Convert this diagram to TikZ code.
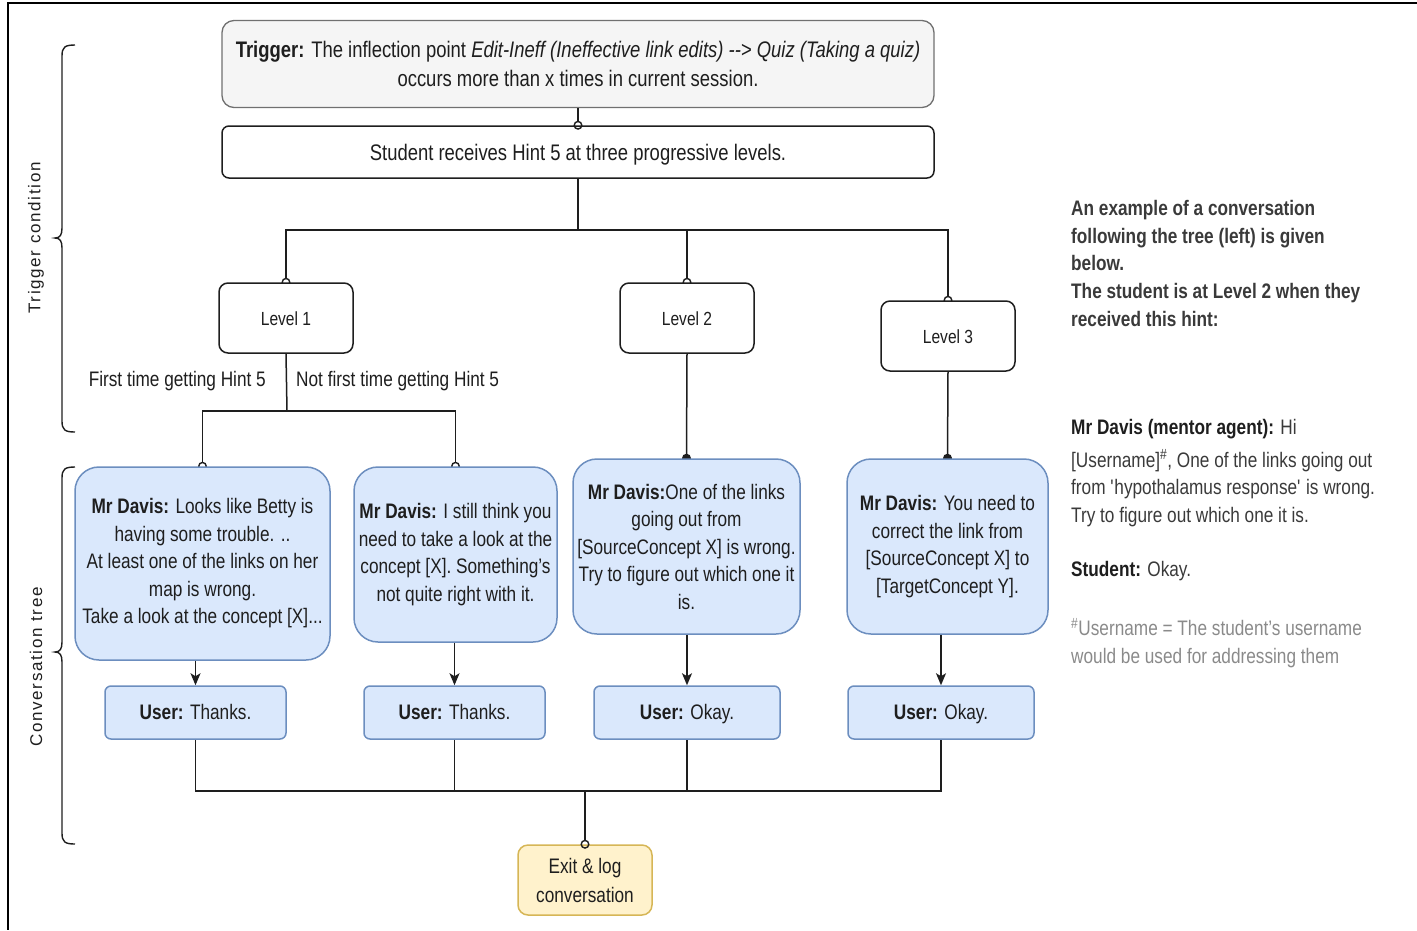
\documentclass[tikz,border=0pt]{standalone}
\usepackage{fontspec}
\setmainfont[FakeStretch=0.82]{Liberation Sans}
\newfontfamily\sidefont[LetterSpace=10]{Liberation Sans}
\usetikzlibrary{arrows.meta,backgrounds}

\definecolor{ink}{HTML}{1E1E1E}
\definecolor{trigfill}{HTML}{F5F5F5}
\definecolor{trigline}{HTML}{707070}
\definecolor{bluefill}{HTML}{DAE8FC}
\definecolor{blueline}{HTML}{6C8EBF}
\definecolor{yelfill}{HTML}{FFF2CC}
\definecolor{yelline}{HTML}{D6B656}
\definecolor{notegray}{HTML}{3A3A3A}
\definecolor{footgray}{HTML}{8A8A8A}

\newcommand{\txt}[2]{\fontsize{#1}{#2}\selectfont}

\tikzset{
  every node/.style={text=ink, inner sep=0pt, align=center},
  trigbox/.style={draw=trigline, fill=trigfill, line width=1.3pt, rounded corners=12pt,
    minimum width=712pt, minimum height=87pt, font=\txt{22.5}{29}},
  hintbox/.style={draw=ink, fill=white, line width=1.5pt, rounded corners=7pt,
    minimum width=712pt, minimum height=52pt, font=\txt{22.5}{27}, text height=20pt, text depth=2.5pt},
  levelbox/.style={draw=ink, fill=white, line width=1.5pt, rounded corners=9pt,
    minimum width=134pt, minimum height=70pt, font=\txt{19}{24}, text height=18pt, text depth=2.5pt},
  davisbox/.style={draw=blueline, fill=bluefill, line width=1.5pt, rounded corners=24pt,
    minimum height=175pt, font=\txt{21}{27.5}},
  userbox/.style={draw=blueline, fill=bluefill, line width=1.5pt, rounded corners=6pt,
    minimum height=53pt, font=\txt{21}{27}, text height=17pt, text depth=2.5pt},
  exitbox/.style={draw=yelline, fill=yelfill, line width=1.5pt, rounded corners=10pt,
    minimum width=134pt, minimum height=70pt, font=\txt{21}{29}},
  branchlabel/.style={font=\txt{21}{27}},
  sidelabel/.style={font=\sidefont\fontsize{17}{20}\selectfont, rotate=90},
  notetext/.style={align=left, anchor=north west, text=notegray, font=\txt{21}{27.7}},
  edge/.style={draw=ink, line width=1.5pt},
  opentip/.style={-{Circle[open,length=9pt,width=9pt,line width=1.4pt]}, shorten >=-4.5pt},
  dottip/.style={-{Circle[length=9pt,width=9pt]}, shorten >=-4.5pt},
  steptip/.style={-{Stealth[length=12pt,width=10pt,inset=3pt]}},
  bracket/.style={draw=ink, line width=1.4pt},
}

\begin{document}
\begin{tikzpicture}[x=1pt,y=-1pt]
\useasboundingbox (0,0) rectangle (1417,930);

% frame edges
\draw[line width=1.6pt] (1417,3) -- (8,3) -- (8,930);

% trigger and hint
\node[trigbox] (trig) at (578,64)
  {\textbf{Trigger:} The inflection point \textit{Edit-Ineff (Ineffective link edits) {-}{-}> Quiz (Taking a quiz)}\\
   occurs more than x times in current session.};
\node[hintbox] (hint) at (578,152) {Student receives Hint 5 at three progressive levels.};

% levels
\node[levelbox] (lv1) at (286,318) {Level 1};
\node[levelbox] (lv2) at (687,318) {Level 2};
\node[levelbox] (lv3) at (948,336) {Level 3};

\node[branchlabel, anchor=east] (first) at (266,381) {First time getting Hint 5};
\node[branchlabel, anchor=west] (notfirst) at (296,381) {Not first time getting Hint 5};

% mentor messages
\node[davisbox, minimum width=255pt, minimum height=193pt] (d1) at (202.5,563.5)
  {\textbf{Mr Davis:} Looks like Betty is\\ having some trouble. ..\\ At least one of the links on her\\ map is wrong.\\ Take a look at the concept [X]...};
\node[davisbox, minimum width=203pt] (d2) at (455.5,554.5)
  {\textbf{Mr Davis:} I still think you\\ need to take a look at the\\ concept [X]. Something's\\ not quite right with it.};
\node[davisbox, minimum width=227pt] (d3) at (686.5,546.5)
  {\textbf{Mr Davis:}One of the links\\ going out from\\ {[SourceConcept X]} is wrong.\\ Try to figure out which one it\\ is.};
\node[davisbox, minimum width=201pt] (d4) at (947.5,546.5)
  {\textbf{Mr Davis:} You need to\\ correct the link from\\ {[SourceConcept X]} to\\ {[TargetConcept Y]}.};

% user replies
\node[userbox, minimum width=181pt] (u1) at (195.5,712.5) {\textbf{User:} Thanks.};
\node[userbox, minimum width=181pt] (u2) at (454.5,712.5) {\textbf{User:} Thanks.};
\node[userbox, minimum width=186pt] (u3) at (687,712.5) {\textbf{User:} Okay.};
\node[userbox, minimum width=186pt] (u4) at (941,712.5) {\textbf{User:} Okay.};

\node[exitbox] (exit) at (585,880) {Exit \& log\\ conversation};

% junction points
\coordinate (hub) at (578,230);
\coordinate (split) at (287,411);
\coordinate (join) at (585,791);

% tree connectors, behind the boxes
\begin{scope}[on background layer]
  \draw[edge] (hint.south) -- (hub);
  \draw[edge, opentip] (hub) -| (lv1.north);
  \draw[edge, opentip] (hub) -| (lv2.north);
  \draw[edge, opentip] (hub) -| (lv3.north);
  \draw[edge] (lv1.south) -- (split);
  \draw[edge, opentip] (split) -| (d1.north);
  \draw[edge, opentip] (split) -| (d2.north);
  \draw[edge, dottip] (lv2.south) -- (d3.north);
  \draw[edge, dottip] (lv3.south) -- (d4.north);
  \draw[edge] (u1.south) |- (join);
  \draw[edge] (u2.south) |- (join);
  \draw[edge] (u3.south) |- (join);
  \draw[edge] (u4.south) |- (join);
\end{scope}

\draw[edge, opentip] (trig.south) -- (hint.north);
\draw[edge, steptip] (d1.south -| u1.north) -- (u1.north);
\draw[edge, steptip] (d2.south -| u2.north) -- (u2.north);
\draw[edge, steptip] (d3.south -| u3.north) -- (u3.north);
\draw[edge, steptip] (d4.south -| u4.north) -- (u4.north);
\draw[edge, opentip] (join) -- (exit.north);

% section brackets
\draw[bracket] (75,45) .. controls (65,45) and (62,47) .. (62,56) -- (62,228)
  .. controls (62,235) and (60,238) .. (55,238)
  .. controls (60,238) and (62,241) .. (62,248) -- (62,421)
  .. controls (62,430) and (65,432) .. (75,432);
\draw[bracket] (75,467) .. controls (65,467) and (62,469) .. (62,478) -- (62,642)
  .. controls (62,649) and (60,652) .. (55,652)
  .. controls (60,652) and (62,655) .. (62,662) -- (62,833)
  .. controls (62,842) and (65,844) .. (75,844);
\node[sidelabel] (lbltrig) at (36,238) {Trigger condition};
\node[sidelabel] (lblconv) at (36,667) {Conversation tree};

% example conversation
\node[notetext, font=\txt{21}{27.7}\bfseries] (intro) at (1071,200)
  {An example of a conversation\\ following the tree (left) is given\\ below.\\ The student is at Level 2 when they\\ received this hint:};
\node[notetext, text=ink] (mentor) at (1071,419)
  {\textbf{Mr Davis (mentor agent):} \color{notegray}Hi\\[5pt]
   \color{notegray}{[Username]}\textsuperscript{\#}, One of the links going out\\
   \color{notegray}from \textquotesingle hypothalamus response\textquotesingle{} is wrong.\\
   \color{notegray}Try to figure out which one it is.};
\node[notetext, text=ink] (student) at (1071,561) {\textbf{Student:} \color{notegray}Okay.};
\node[notetext, text=footgray] (foot) at (1071,618)
  {\textsuperscript{\#}Username = The student’s username\\ would be used for addressing them};
\end{tikzpicture}
\end{document}
